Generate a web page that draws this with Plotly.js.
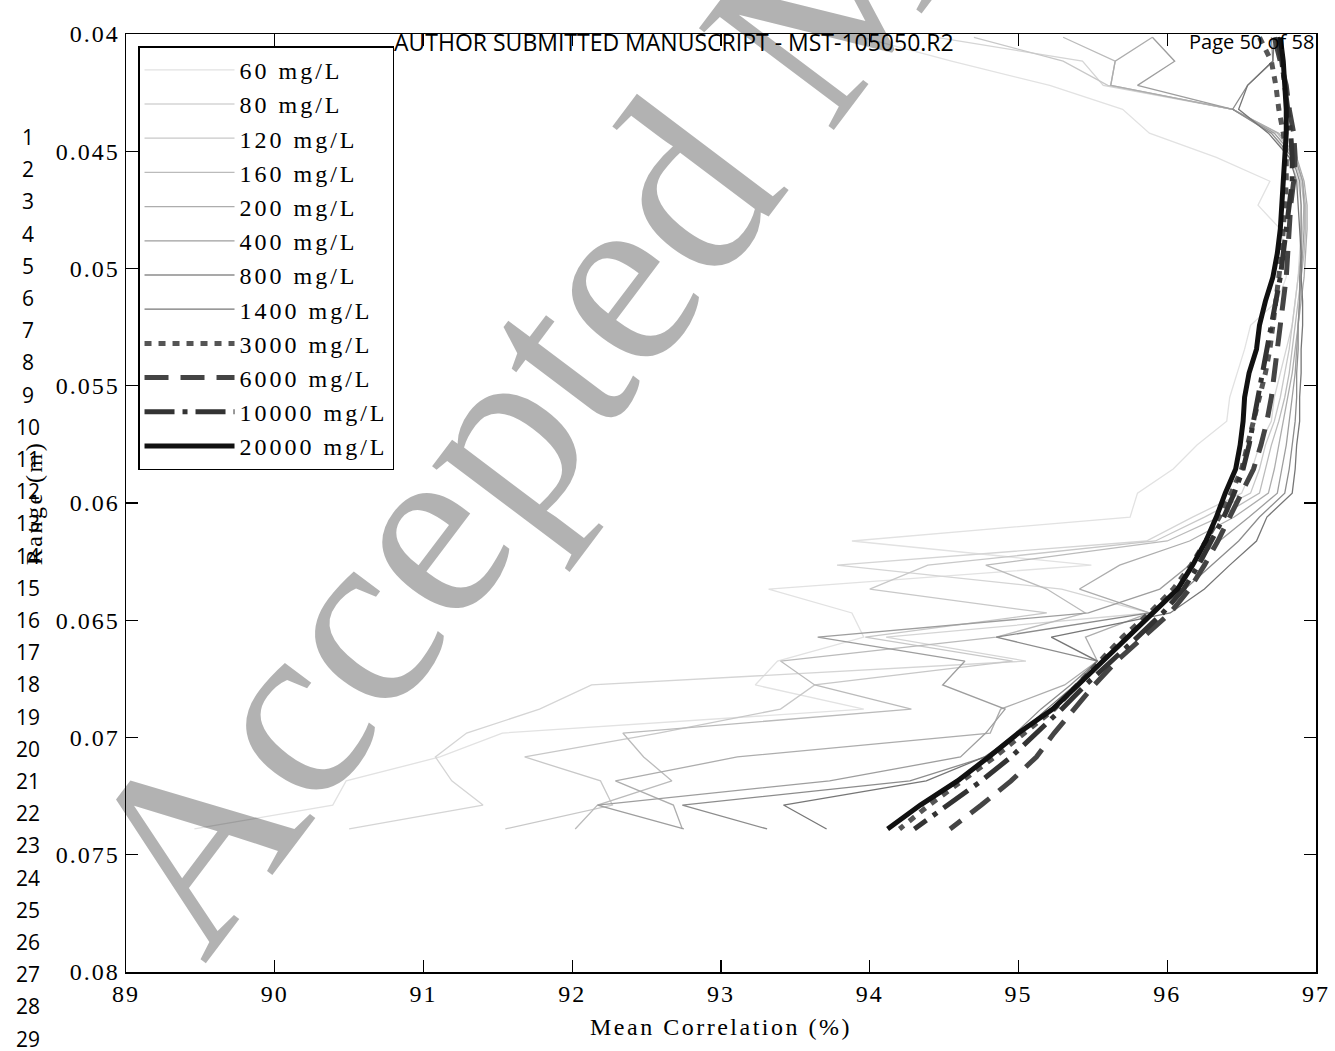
<!DOCTYPE html>
<html><head><meta charset="utf-8">
<script src="https://cdn.plot.ly/plotly-3.0.1.min.js"></script>
<style>
html,body{margin:0;padding:0;background:#fff}
.xtick text, .ytick text { letter-spacing: 2px; }
.legendtext { letter-spacing: 3px; }
.xtitle, .ytitle { letter-spacing: 2.5px; }
</style>
</head><body>
<div id="chart" style="width:1335px;height:1051px"></div>
<script>
// Range bins (m)
const rangeM = [0.04014,0.04116,0.04219,0.04321,0.04423,0.04526,0.04628,0.04730,0.04832,0.04935,0.05037,0.05139,0.05242,0.05344,0.05446,0.05549,0.05651,0.05753,0.05855,0.05958,0.06060,0.06162,0.06265,0.06367,0.06469,0.06572,0.06674,0.06776,0.06879,0.06981,0.07083,0.07185,0.07288,0.07390];

// Mean correlation (%) per concentration
const corr60   = [93.95,94.55,95.21,95.70,95.88,96.33,96.69,96.61,96.76,96.80,96.80,96.74,96.56,96.52,96.47,96.42,96.40,96.20,96.04,95.80,95.75,93.88,95.49,93.32,93.88,93.96,93.38,93.23,93.96,91.53,91.11,90.48,90.39,89.46];
const corr80   = [94.45,95.43,95.57,96.44,96.70,96.82,96.88,96.90,96.90,96.89,96.88,96.86,96.84,96.80,96.76,96.72,96.70,96.62,96.57,96.50,96.17,95.86,93.78,95.29,95.88,94.11,95.05,92.13,91.78,91.29,91.08,91.19,91.40,90.50];
const corr120  = [94.70,95.30,95.60,96.44,96.72,96.85,96.90,96.92,96.91,96.90,96.88,96.86,96.84,96.82,96.79,96.76,96.72,96.66,96.62,96.56,96.25,95.92,94.39,94.00,95.19,93.97,94.96,93.63,93.40,92.58,91.68,92.19,92.27,91.55];
const corr160  = [95.30,95.65,95.62,96.44,96.74,96.86,96.91,96.93,96.93,96.92,96.90,96.88,96.86,96.84,96.82,96.79,96.75,96.70,96.66,96.62,96.35,96.00,94.78,95.19,95.45,94.85,93.40,93.63,94.28,92.34,92.48,92.67,92.17,92.02];
const corr200  = [95.90,95.65,95.62,96.44,96.75,96.87,96.92,96.94,96.94,96.93,96.92,96.90,96.88,96.86,96.84,96.81,96.78,96.75,96.72,96.68,96.45,96.15,95.68,95.41,95.88,95.45,95.53,95.31,94.88,94.81,93.11,92.29,92.68,92.74];
const corr400  = [95.90,96.05,95.80,96.44,96.72,96.86,96.91,96.92,96.92,96.91,96.90,96.89,96.88,96.87,96.86,96.84,96.82,96.80,96.77,96.74,96.55,96.35,96.15,95.95,95.47,93.65,94.64,94.49,94.91,94.78,94.61,93.73,92.17,92.75];
const corr800  = [96.70,96.71,96.54,96.44,96.70,96.84,96.89,96.90,96.90,96.90,96.89,96.89,96.88,96.88,96.87,96.87,96.86,96.84,96.82,96.79,96.62,96.48,96.30,96.12,95.88,94.85,95.53,95.35,95.15,94.98,94.78,94.27,92.74,93.31];
const corr1400 = [96.72,96.71,96.54,96.48,96.68,96.82,96.87,96.88,96.89,96.90,96.90,96.91,96.91,96.90,96.90,96.89,96.89,96.87,96.86,96.84,96.67,96.60,96.42,96.25,96.02,95.22,95.53,95.38,95.19,95.01,94.77,94.38,93.42,93.71];
const corr3000 = [96.62,96.70,96.73,96.75,96.78,96.80,96.80,96.79,96.78,96.77,96.75,96.73,96.71,96.69,96.66,96.62,96.58,96.54,96.50,96.43,96.35,96.26,96.16,96.04,95.88,95.70,95.55,95.40,95.24,95.04,94.84,94.62,94.40,94.20];
const corr6000 = [96.72,96.76,96.80,96.82,96.85,96.86,96.85,96.83,96.82,96.81,96.80,96.78,96.76,96.74,96.72,96.70,96.67,96.63,96.58,96.50,96.42,96.34,96.25,96.15,96.02,95.84,95.66,95.51,95.37,95.24,95.12,94.95,94.75,94.54];
const corr10000= [96.74,96.77,96.79,96.81,96.83,96.84,96.84,96.82,96.80,96.78,96.76,96.73,96.70,96.67,96.64,96.61,96.58,96.55,96.51,96.45,96.38,96.30,96.21,96.11,95.97,95.80,95.62,95.45,95.29,95.12,94.95,94.75,94.53,94.30];
const corr20000= [96.76,96.78,96.79,96.80,96.80,96.79,96.78,96.77,96.76,96.74,96.71,96.66,96.62,96.60,96.55,96.52,96.51,96.49,96.46,96.39,96.33,96.26,96.17,96.07,95.90,95.74,95.57,95.40,95.23,95.00,94.80,94.59,94.34,94.12];

const seriesNames = ['60 mg/L','80 mg/L','120 mg/L','160 mg/L','200 mg/L','400 mg/L','800 mg/L','1400 mg/L','3000 mg/L','6000 mg/L','10000 mg/L','20000 mg/L'];
const xTickVals = [89,90,91,92,93,94,95,96,97];
const xTickLabels = ['89','90','91','92','93','94','95','96','97'];
const yTickVals = [0.04,0.045,0.05,0.055,0.06,0.065,0.07,0.075,0.08];
const yTickLabels = ['0.04','0.045','0.05','0.055','0.06','0.065','0.07','0.075','0.08'];
const lineNumbers = ['1','2','3','4','5','6','7','8','9','10','11','12','13','14','15','16','17','18','19','20','21','22','23','24','25','26','27','28','29'];

const series = [corr60,corr80,corr120,corr160,corr200,corr400,corr800,corr1400,corr3000,corr6000,corr10000,corr20000];
const colors = ['#e2e2e2','#d5d5d5','#c8c8c8','#bbbbbb','#adadad','#9e9e9e','#8c8c8c','#767676','#555555','#444444','#333333','#111111'];
const widths = [1.3,1.3,1.3,1.3,1.3,1.3,1.3,1.3,5,5,5,5];
const dashes = ['solid','solid','solid','solid','solid','solid','solid','solid','7px,7px','24px,12px','30px,8px,5px,8px','solid'];

const traces = series.map((xs,i)=>({
  x: xs, y: rangeM, type:'scatter', mode:'lines', name: seriesNames[i],
  line:{color: colors[i], width: widths[i], dash: dashes[i]}
}));

const serif = 'Liberation Serif, Times New Roman, serif';
const sans = 'Open Sans, Noto Sans, sans-serif';

const annotations = [];
annotations.push({xref:'paper',yref:'paper',x:0.568,y:1.006,text:'Accepted Manuscript',showarrow:false,
  textangle:-53,font:{family:serif,size:258,color:'rgba(0,0,0,0.30)'},xanchor:'center',yanchor:'middle'});
annotations.push({xref:'paper',yref:'paper',x:0.4605,y:(972-42)/938,text:'AUTHOR SUBMITTED MANUSCRIPT - MST-105050.R2',
  showarrow:false,font:{family:sans,size:23,color:'#000'},xanchor:'center',yanchor:'middle'});
annotations.push({xref:'paper',yref:'paper',x:1.0,y:(972-42)/938,text:'Page 50 of 58',
  showarrow:false,font:{family:sans,size:20,color:'#000'},xanchor:'right',yanchor:'middle'});
lineNumbers.forEach((t,i)=>{
  annotations.push({xref:'paper',yref:'paper',x:(28-126)/1190,y:(972-(137+i*32.2))/938,text:t,showarrow:false,height:20,
    font:{family:sans,size:21,color:'#000'},xanchor:'center',yanchor:'middle'});
});

const layout = {
  width:1335, height:1051,
  margin:{l:126,r:19,t:34,b:79},
  paper_bgcolor:'#fff', plot_bgcolor:'#fff',
  showlegend:true,
  legend:{x:0.0101,y:0.987,xanchor:'left',yanchor:'top',bgcolor:'#fff',bordercolor:'#000',borderwidth:1.5,
    font:{family:serif,size:24,color:'#000'},itemwidth:90,tracegroupgap:0},
  xaxis:{range:[89,97],tickvals:xTickVals,ticktext:xTickLabels,ticks:'inside',ticklen:12,tickwidth:1.2,tickcolor:'#000',
    showline:true,linecolor:'#000',linewidth:1.5,mirror:'ticks',showgrid:false,zeroline:false,
    tickfont:{family:serif,size:24,color:'#000'},
    title:{text:'Mean Correlation (%)',font:{family:serif,size:24,color:'#000'},standoff:12}},
  yaxis:{range:[0.08,0.04],tickvals:yTickVals,ticktext:yTickLabels,ticks:'inside',ticklen:12,tickwidth:1.2,tickcolor:'#000',
    showline:true,linecolor:'#000',linewidth:1.5,mirror:'ticks',showgrid:false,zeroline:false,
    tickfont:{family:serif,size:24,color:'#000'},
    title:{text:'Range (m)',font:{family:serif,size:24,color:'#000'},standoff:6}},
  annotations: annotations
};

Plotly.newPlot('chart', traces, layout, {displayModeBar:false, staticPlot:true});
</script>
</body></html>
